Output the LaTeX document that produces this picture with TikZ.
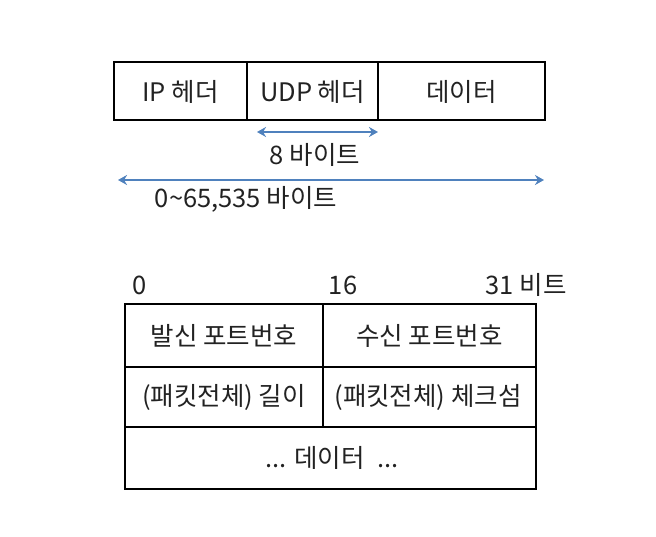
\documentclass[tikz,border=0pt]{standalone}
\usepackage{fontspec}
\setmainfont{Noto Sans CJK KR}
\usetikzlibrary{arrows.meta}
\definecolor{arrblue}{HTML}{4F81BD}
\definecolor{txt}{HTML}{222222}
\tikzset{
  cellbox/.style={draw=black, line width=1.4pt},
  lbl/.style={font=\fontsize{25.5}{28}\selectfont, text=txt, inner sep=0pt},
  dim/.style={draw=arrblue, line width=1.5pt, {Stealth[length=9pt,width=10pt]}-{Stealth[length=9pt,width=10pt]}},
}
\begin{document}
\begin{tikzpicture}[x=1pt,y=-1pt]
\useasboundingbox (0,0) rectangle (656,537);
% top row
\draw[cellbox] (114,62) rectangle (545,120);
\draw[cellbox] (247,62) -- (247,120);
\draw[cellbox] (378,62) -- (378,120);
\node[lbl] (ip) at (180.5,92) {IP 헤더};
\node[lbl] (udp) at (312.5,92) {UDP 헤더};
\node[lbl] (data) at (461.5,92) {데이터};
\coordinate (a1) at (257,132);
\coordinate (a2) at (378,132);
\draw[dim] (a1) -- (a2);
\node[lbl] (eight) at (315,155) {8 바이트};
\coordinate (b1) at (118,180);
\coordinate (b2) at (544,180);
\draw[dim] (b1) -- (b2);
\node[lbl] (total) at (246,199) {0\textasciitilde65,535 바이트};
% bottom table
\draw[cellbox] (125,304) rectangle (536,489);
\draw[cellbox] (125,367) -- (536,367);
\draw[cellbox] (125,427) -- (536,427);
\draw[cellbox] (323,304) -- (323,427);
\node[lbl] (b0) at (140,285) {0};
\node[lbl] (b16) at (343,285) {16};
\node[lbl] (b31) at (526,285) {31 비트};
\node[lbl] (src) at (224,335.5) {발신 포트번호};
\node[lbl] (dst) at (429.5,335.5) {수신 포트번호};
\node[lbl] (len) at (224,397) {(패킷전체) 길이};
\node[lbl] (chk) at (428,397) {(패킷전체) 체크섬};
\node[lbl] (dd) at (332,458) {... 데이터\hspace{0.5em}...};
\end{tikzpicture}
\end{document}
